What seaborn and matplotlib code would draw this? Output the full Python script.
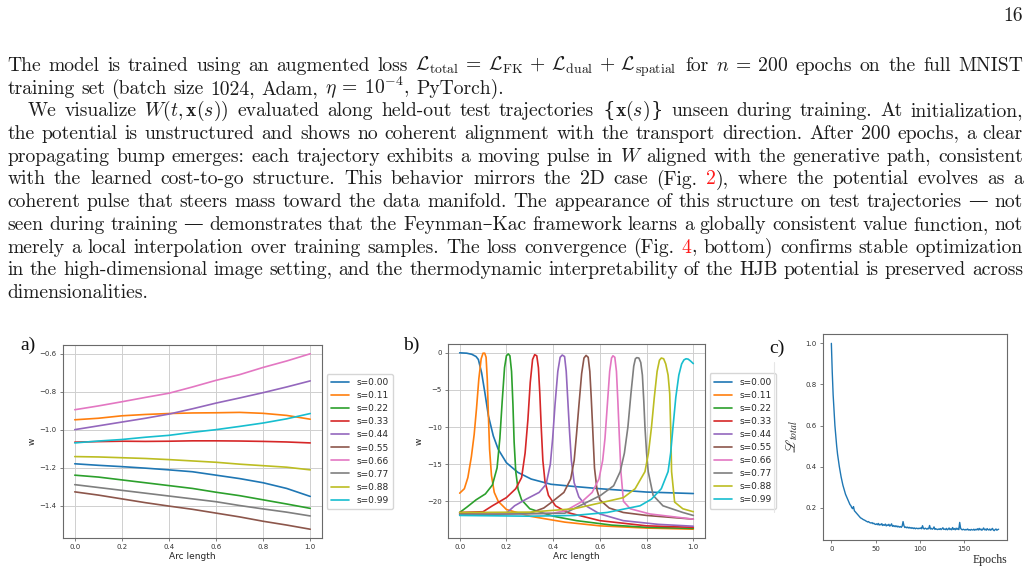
import matplotlib
matplotlib.use("Agg")
import numpy as np
import pandas as pd
import matplotlib.pyplot as plt
import seaborn as sns

# ---------------- data ----------------
s_labels = ["s=0.00", "s=0.11", "s=0.22", "s=0.33", "s=0.44",
            "s=0.55", "s=0.66", "s=0.77", "s=0.88", "s=0.99"]

# panel a: W at initialization along the arc
arc_a = [0.0, 0.1, 0.2, 0.3, 0.4, 0.5, 0.6, 0.7, 0.8, 0.9, 1.0]
w_init = [
    [-1.18, -1.188, -1.195, -1.203, -1.212, -1.222, -1.24, -1.258, -1.28, -1.31, -1.352],
    [-0.948, -0.94, -0.927, -0.92, -0.915, -0.912, -0.911, -0.909, -0.914, -0.925, -0.945],
    [-1.24, -1.25, -1.265, -1.28, -1.295, -1.31, -1.33, -1.348, -1.37, -1.392, -1.415],
    [-1.066, -1.063, -1.061, -1.062, -1.061, -1.059, -1.059, -1.06, -1.062, -1.065, -1.07],
    [-1.0, -0.98, -0.96, -0.94, -0.918, -0.89, -0.86, -0.833, -0.805, -0.775, -0.743],
    [-1.328, -1.345, -1.365, -1.385, -1.403, -1.42, -1.44, -1.46, -1.483, -1.503, -1.525],
    [-0.895, -0.875, -0.853, -0.83, -0.808, -0.775, -0.74, -0.71, -0.672, -0.638, -0.6],
    [-1.29, -1.305, -1.32, -1.335, -1.35, -1.365, -1.38, -1.4, -1.418, -1.435, -1.455],
    [-1.142, -1.144, -1.148, -1.152, -1.158, -1.165, -1.172, -1.182, -1.19, -1.198, -1.212],
    [-1.07, -1.06, -1.052, -1.04, -1.03, -1.014, -1.0, -0.983, -0.965, -0.943, -0.915],
]

# panel b: W after training, one (x, y) trace per s
b_x = [
    [0, 0.03, 0.052, 0.07, 0.08, 0.094, 0.108, 0.123, 0.144, 0.165, 0.2, 0.249, 0.306, 0.39, 0.49, 0.6, 0.8, 1.0],
    [0, 0.02, 0.035, 0.05, 0.062, 0.072, 0.082, 0.092, 0.1, 0.107, 0.113, 0.118, 0.123, 0.128, 0.136, 0.148, 0.165, 0.2, 0.3, 0.45, 0.6, 0.8, 1.0],
    [0, 0.03, 0.07, 0.11, 0.14, 0.16, 0.172, 0.182, 0.192, 0.2, 0.208, 0.215, 0.222, 0.228, 0.233, 0.24, 0.25, 0.265, 0.3, 0.4, 0.5, 0.65, 0.8, 1.0],
    [0, 0.1, 0.14, 0.2, 0.24, 0.265, 0.28, 0.292, 0.302, 0.312, 0.321, 0.33, 0.337, 0.343, 0.349, 0.356, 0.365, 0.38, 0.41, 0.46, 0.6, 0.8, 1.0],
    [0, 0.2, 0.235, 0.285, 0.34, 0.37, 0.388, 0.398, 0.408, 0.42, 0.43, 0.439, 0.449, 0.456, 0.463, 0.47, 0.478, 0.49, 0.51, 0.54, 0.6, 0.7, 0.85, 1.0],
    [0, 0.3, 0.36, 0.39, 0.446, 0.475, 0.49, 0.5, 0.51, 0.522, 0.532, 0.541, 0.55, 0.557, 0.563, 0.569, 0.577, 0.588, 0.6, 0.64, 0.7, 0.8, 1.0],
    [0, 0.4, 0.454, 0.525, 0.567, 0.596, 0.612, 0.622, 0.632, 0.642, 0.65, 0.656, 0.664, 0.671, 0.677, 0.683, 0.69, 0.701, 0.73, 0.814, 1.0],
    [0, 0.45, 0.546, 0.603, 0.659, 0.687, 0.705, 0.72, 0.733, 0.745, 0.752, 0.758, 0.767, 0.775, 0.782, 0.788, 0.793, 0.8, 0.807, 0.828, 0.87, 0.955, 1.0],
    [0, 0.3, 0.49, 0.617, 0.701, 0.751, 0.793, 0.808, 0.821, 0.833, 0.845, 0.855, 0.863, 0.873, 0.882, 0.892, 0.899, 0.903, 0.907, 0.92, 0.955, 1.0],
    [0, 0.3, 0.49, 0.631, 0.772, 0.821, 0.863, 0.892, 0.903, 0.913, 0.925, 0.938, 0.95, 0.96, 0.969, 0.978, 0.988, 1.0],
]
b_y = [
    [0, -0.05, -0.2, -0.5, -0.9, -2.7, -5.4, -8.5, -11.2, -13.0, -14.8, -16.1, -17.0, -17.7, -18.0, -18.3, -18.75, -18.95],
    [-18.9, -18.3, -16.8, -14.0, -11.0, -7.5, -3.5, -0.8, -0.05, -0.05, -0.6, -3.5, -8.5, -13.0, -16.5, -18.8, -20.0, -21.1, -22.0, -22.8, -23.3, -23.6, -23.75],
    [-21.5, -20.8, -19.8, -19.0, -17.8, -15.5, -11.5, -6.5, -2.0, -0.4, -0.15, -0.4, -2.5, -7.0, -12.0, -16.0, -18.4, -19.8, -21.0, -22.0, -22.6, -23.2, -23.5, -23.65],
    [-21.5, -21.4, -20.6, -19.5, -18.3, -16.8, -13.5, -9.0, -4.0, -0.9, -0.25, -0.4, -2.0, -5.5, -10.0, -14.5, -17.3, -19.2, -20.6, -21.5, -22.6, -23.3, -23.5],
    [-21.7, -21.6, -20.6, -19.7, -18.8, -17.7, -15.0, -11.5, -7.0, -2.5, -0.6, -0.3, -0.5, -2.5, -6.5, -10.5, -14.5, -17.5, -19.4, -20.6, -21.7, -22.6, -23.1, -23.35],
    [-21.7, -21.6, -20.9, -20.2, -18.8, -17.0, -14.5, -11.0, -7.2, -2.8, -0.7, -0.35, -0.6, -2.5, -6.0, -10.0, -15.5, -18.5, -19.8, -20.9, -21.5, -21.9, -22.4],
    [-21.8, -21.6, -21.25, -20.0, -18.8, -17.0, -14.5, -11.5, -7.0, -2.5, -0.7, -0.4, -0.6, -2.5, -6.5, -11.0, -16.0, -20.0, -21.0, -21.7, -22.4],
    [-21.8, -21.6, -20.1, -19.2, -17.9, -16.0, -13.5, -10.0, -5.5, -1.8, -0.8, -0.65, -0.7, -1.3, -3.0, -6.5, -10.0, -13.5, -16.0, -19.2, -20.6, -21.5, -21.9],
    [-21.5, -21.45, -21.0, -20.1, -19.5, -18.3, -16.0, -13.5, -10.0, -6.0, -2.5, -1.0, -0.7, -0.8, -1.5, -3.0, -5.5, -10.0, -16.0, -20.1, -21.0, -21.4],
    [-21.9, -22.0, -21.9, -21.5, -20.6, -19.7, -18.3, -16.0, -13.5, -10.0, -6.0, -3.0, -1.5, -0.95, -0.8, -0.85, -1.1, -1.45],
]

# panel c: total loss per epoch
loss = [
    1.0, 0.86, 0.75, 0.67, 0.60, 0.55, 0.50, 0.46, 0.43, 0.40,
    0.375, 0.35, 0.33, 0.31, 0.295, 0.28, 0.265, 0.255, 0.245, 0.235,
    0.225, 0.215, 0.21, 0.2, 0.195, 0.205, 0.185, 0.18, 0.175, 0.17,
    0.165, 0.16, 0.155, 0.15, 0.148, 0.145, 0.142, 0.14, 0.138, 0.135,
    0.133, 0.13, 0.132, 0.128, 0.126, 0.125, 0.127, 0.122, 0.124, 0.12,
    0.118, 0.121, 0.117, 0.123, 0.115, 0.119, 0.116, 0.122, 0.113, 0.117,
    0.114, 0.12, 0.111, 0.116, 0.113, 0.119, 0.11, 0.114, 0.121, 0.109,
    0.113, 0.108, 0.112, 0.107, 0.111, 0.106, 0.109, 0.105, 0.108, 0.104,
    0.11, 0.132, 0.112, 0.103, 0.106, 0.102, 0.105, 0.101, 0.104, 0.1,
    0.103, 0.099, 0.102, 0.098, 0.101, 0.097, 0.1, 0.099, 0.097, 0.1,
    0.098, 0.101, 0.097, 0.112, 0.099, 0.096, 0.1, 0.098, 0.095, 0.099,
    0.097, 0.113, 0.096, 0.099, 0.095, 0.098, 0.106, 0.094, 0.097, 0.095,
    0.093, 0.096, 0.094, 0.098, 0.093, 0.097, 0.102, 0.094, 0.096, 0.093,
    0.099, 0.092, 0.095, 0.101, 0.093, 0.097, 0.092, 0.103, 0.094, 0.098,
    0.092, 0.1, 0.094, 0.099, 0.093, 0.128, 0.1, 0.094, 0.092, 0.095,
    0.093, 0.091, 0.094, 0.092, 0.096, 0.091, 0.093, 0.09, 0.094, 0.092,
    0.091, 0.095, 0.09, 0.094, 0.092, 0.097, 0.091, 0.099, 0.092, 0.096,
    0.09, 0.094, 0.101, 0.092, 0.095, 0.09, 0.098, 0.093, 0.091, 0.096,
    0.09, 0.094, 0.099, 0.091, 0.088, 0.093, 0.096, 0.09, 0.093, 0.095,
]

# body text, one entry per printed line: (text, left px, justified?)
# § ... § marks red cross references, ¦ splits a word into parts drawn back to back
body = [
    (r"The model is trained using an augmented loss $\mathcal{L}_{\mathrm{total}}\:=\:\mathcal{L}_{\mathrm{FK}}\,+\,\mathcal{L}_{\mathrm{dual}}\,+\,\mathcal{L}_{\mathrm{spatial}}$ for $n\:=\:200$ epochs on the full MNIST", 7.3, True),
    (r"training set (batch size 1024, Adam, $\eta\:=\:10^{-4}$, PyTorch).", 7.3, False),
    (r"We visualize $W(t,\mathbf{x}(s))$ evaluated along held-out test trajectories {¦$\mathbf{x}(s)$¦} unseen during training. At initialization,", 27.5, True),
    (r"the potential is unstructured and shows no coherent alignment with the transport direction. After 200 epochs, a clear", 7.3, True),
    (r"propagating bump emerges: each trajectory exhibits a moving pulse in $W$ aligned with the generative path, consistent", 7.3, True),
    (r"with the learned cost-to-go structure. This behavior mirrors the 2D case (Fig. §2§), where the potential evolves as a", 7.3, True),
    (r"coherent pulse that steers mass toward the data manifold. The appearance of this structure on test trajectories — not", 7.3, True),
    (r"seen during training — demonstrates that the Feynman–Kac framework learns a globally consistent value function, not", 7.3, True),
    (r"merely a local interpolation over training samples. The loss convergence (Fig. §4§, bottom) confirms stable optimization", 7.3, True),
    (r"in the high-dimensional image setting, and the thermodynamic interpretability of the HJB potential is preserved across", 7.3, True),
    (r"dimensionalities.", 7.3, False),
]

# ---------------- style ----------------
sns.set_style("ticks")
plt.rcParams["font.family"] = ["DejaVu Sans"]
plt.rcParams["mathtext.fontset"] = "cm"
plt.rcParams["axes.edgecolor"] = "#6a6a6a"
plt.rcParams["axes.linewidth"] = 0.8
plt.rcParams["xtick.color"] = "#6a6a6a"
plt.rcParams["ytick.color"] = "#6a6a6a"
plt.rcParams["xtick.labelcolor"] = "#333333"
plt.rcParams["ytick.labelcolor"] = "#333333"

W, H = 1030, 571
fig = plt.figure(figsize=(W / 100, H / 100), dpi=100)
fig.patch.set_facecolor("white")
renderer = fig.canvas.get_renderer()

serif = ["cmr10", "DejaVu Serif"]
fs_body = 14.1
ink = "#1c1c1c"


def fx(px):
    return px / W


def fy(py):
    return 1 - py / H


def fam_of(p):
    return ["DejaVu Serif"] if p in ("{", "}") else serif


def ext(s, fam):
    t = fig.text(0, 0, s, fontsize=fs_body, family=fam)
    w = t.get_window_extent(renderer).width
    t.remove()
    return w


def width_of(s):
    # advance width: pad with a letter on each side so side bearings count
    fam = fam_of(s)
    return ext("H" + s + "H", fam) - ext("HH", fam)


def pieces(word):
    out = []
    for i, part in enumerate(word.split("§")):
        col = "#ff1a1a" if i % 2 else ink
        for p in part.split("¦"):
            if p:
                out.append((p, col))
    return out


space_w = ext("a a", serif) - ext("aa", serif)
R = 1023
for i, (line, x0, just) in enumerate(body):
    base = 71 + 22.7 * i
    words = line.split(" ")
    wlist = [[(p, c, width_of(p)) for p, c in pieces(w)] for w in words]
    tot = sum(sum(q[2] for q in wd) for wd in wlist)
    gap = (R - x0 - tot) / (len(words) - 1) if just else space_w
    x = x0
    for wd in wlist:
        for p, c, w in wd:
            fig.text(fx(x), fy(base), p, fontsize=fs_body, family=fam_of(p),
                     color=c, va="baseline", ha="left")
            x += w
        x += gap

fig.text(fx(1023), fy(21), "16", fontsize=fs_body, family=serif,
         color=ink, ha="right", va="baseline")

# ---------------- panels ----------------
pal = sns.color_palette("tab10", 10)
tick_fs = 5
lab_fs = 6.5


def style_axes(ax, grid=True):
    ax.tick_params(labelsize=tick_fs, length=2.5, width=0.6, pad=2)
    for sp in ax.spines.values():
        sp.set_visible(True)
        sp.set_color("#6a6a6a")
    if grid:
        ax.grid(True, color="#cfcfcf", lw=0.7)
        ax.set_axisbelow(True)


# a)
ax_a = fig.add_axes([fx(63), fy(538), fx(322 - 63), (538 - 345) / H])
df_a = pd.DataFrame({
    "arc": np.tile(arc_a, len(s_labels)),
    "w": np.concatenate(w_init),
    "s": np.repeat(s_labels, len(arc_a)),
})
sns.lineplot(data=df_a, x="arc", y="w", hue="s", palette=pal, ax=ax_a,
             lw=1.2, estimator=None)
style_axes(ax_a)
ax_a.set_xticks([0.0, 0.2, 0.4, 0.6, 0.8, 1.0])
ax_a.set_yticks([-0.6, -0.8, -1.0, -1.2, -1.4])
ax_a.set_xlabel("Arc length", fontsize=lab_fs, labelpad=1)
ax_a.set_ylabel("w", fontsize=lab_fs, labelpad=2)
sns.move_legend(ax_a, "center left", bbox_to_anchor=(1.0, 0.5), title=None,
                fontsize=lab_fs, frameon=True, handlelength=2.0,
                labelspacing=0.45, borderpad=0.5)

# b)
ax_b = fig.add_axes([fx(448), fy(538), fx(705 - 448), (538 - 344) / H])
df_b = pd.DataFrame({
    "arc": np.concatenate(b_x),
    "w": np.concatenate(b_y),
    "s": np.concatenate([[lab] * len(xs) for lab, xs in zip(s_labels, b_x)]),
})
sns.lineplot(data=df_b, x="arc", y="w", hue="s", palette=pal, ax=ax_b,
             lw=1.2, estimator=None, sort=False)
style_axes(ax_b)
ax_b.set_xticks([0.0, 0.2, 0.4, 0.6, 0.8, 1.0])
ax_b.set_yticks([0, -5, -10, -15, -20])
ax_b.set_xlabel("Arc length", fontsize=lab_fs, labelpad=1)
ax_b.set_ylabel("w", fontsize=lab_fs, labelpad=2)
sns.move_legend(ax_b, "center left", bbox_to_anchor=(1.0, 0.5), title=None,
                fontsize=lab_fs, frameon=True, handlelength=2.0,
                labelspacing=0.45, borderpad=0.5)

# c)
ax_c = fig.add_axes([fx(823), fy(540), fx(1007 - 823), (540 - 334) / H])
sns.lineplot(x=np.arange(len(loss)), y=loss, ax=ax_c, color=pal[0], lw=1.0)
style_axes(ax_c, grid=False)
ax_c.set_xticks([0, 50, 100, 150])
ax_c.set_yticks([0.2, 0.4, 0.6, 0.8, 1.0])
ax_c.set_xlabel("Epochs", fontsize=8.5, family="Liberation Serif",
                loc="right", labelpad=1)
ax_c.set_ylabel(r"$\mathscr{L}_{total}$", fontsize=10, math_fontfamily="stix",
                labelpad=4)

# remnant of a cropped legend frame left of panel c
fig.add_artist(plt.Line2D([fx(773.5), fx(773.5)], [fy(362), fy(512)],
                          color="#e6e6e6", lw=0.8))

# panel letters
for lab, px, py in [("a)", 20, 350), ("b)", 403, 350), ("c)", 769, 353)]:
    fig.text(fx(px), fy(py), lab, fontsize=14, family="Liberation Serif",
             color="#111111", va="baseline", ha="left")

fig.savefig("out.png", dpi=100, facecolor="white")
